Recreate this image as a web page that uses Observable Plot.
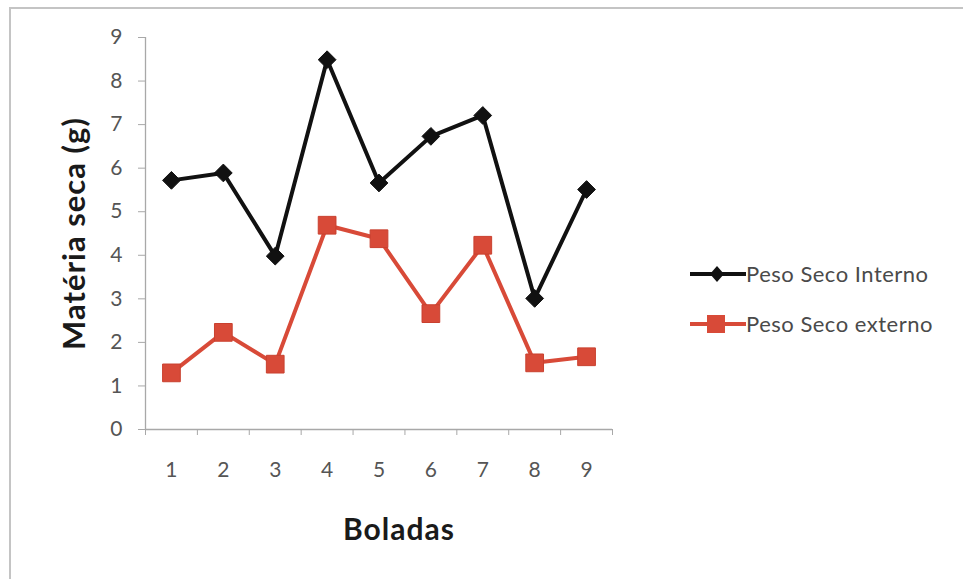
<!DOCTYPE html>
<html>
<head>
<meta charset="utf-8">
<script src="https://cdn.jsdelivr.net/npm/d3@7"></script>
<script src="https://cdn.jsdelivr.net/npm/@observablehq/plot@0.6"></script>
<style>
  body { margin: 0; background: #fff; }
  #wrap { position: relative; width: 963px; height: 579px; overflow: hidden; font-family: Lato, "Open Sans", sans-serif; }
  #border { position: absolute; left: 9px; top: 7px; width: 1000px; height: 1000px; border-top: 2px solid #c4c4c4; border-left: 2px solid #c4c4c4; }
  #chart { position: absolute; left: 0; top: 0; }
  .leg { position: absolute; left: 688px; display: flex; align-items: center; font-size: 22px; letter-spacing: 0.5px; color: #4a4a4a; }
  .leg svg { display: block; }
</style>
</head>
<body>
<div id="wrap">
  <div id="border"></div>
  <div id="chart"></div>
  <div id="legend"></div>
</div>
<script>
const categories = [1, 2, 3, 4, 5, 6, 7, 8, 9];
const interno = [5.72, 5.89, 3.98, 8.49, 5.66, 6.73, 7.21, 3.01, 5.51];
const externo = [1.30, 2.23, 1.50, 4.69, 4.38, 2.66, 4.23, 1.53, 1.67];
const yTicks = [0, 1, 2, 3, 4, 5, 6, 7, 8, 9];
const seriesNames = ["Peso Seco Interno", "Peso Seco externo"];
const yLabel = "Matéria seca (g)";
const xLabel = "Boladas";

const colors = {interno: "#111111", externo: "#d84a38"};
const dataI = categories.map((c, i) => ({x: c, y: interno[i]}));
const dataE = categories.map((c, i) => ({x: c, y: externo[i]}));
const bounds = categories.map(c => c - 0.5).concat([categories[categories.length - 1] + 0.5]);

const chart = Plot.plot({
  width: 963,
  height: 579,
  marginLeft: 145,
  marginRight: 351,
  marginTop: 37,
  marginBottom: 150,
  style: {fontFamily: "Lato, 'Open Sans', sans-serif", fontSize: "21px", background: "transparent", overflow: "visible"},
  x: {domain: [bounds[0], bounds[bounds.length - 1]]},
  y: {domain: [0, 9]},
  marks: [
    Plot.ruleY([0], {stroke: "#a8a8a8", strokeWidth: 1.3}),
    Plot.ruleX([bounds[0]], {stroke: "#a8a8a8", strokeWidth: 1.3}),
    Plot.axisY({ticks: yTicks, tickSize: 7, tickPadding: 16, stroke: "#a8a8a8", fill: "#555", fontSize: 21, label: null}),
    Plot.axisX({ticks: bounds, tickSize: 6, tickFormat: () => "", stroke: "#a8a8a8", label: null}),
    Plot.axisX({ticks: categories, tickSize: 0, tickPadding: 33, fill: "#555", fontSize: 21, label: null}),
    Plot.line(dataE, {x: "x", y: "y", stroke: colors.externo, strokeWidth: 4}),
    Plot.dot(dataE, {x: "x", y: "y", symbol: "square", r: 10, fill: colors.externo, stroke: "#c9402f", strokeWidth: 1}),
    Plot.line(dataI, {x: "x", y: "y", stroke: colors.interno, strokeWidth: 4}),
    Plot.dot(dataI, {x: "x", y: "y", symbol: "diamond2", r: 8, fill: colors.interno, stroke: colors.interno, strokeWidth: 1}),
    Plot.text([yLabel], {frameAnchor: "left", textAnchor: "middle", lineAnchor: "middle", rotate: -90, dx: -70, fontSize: 31, fontWeight: "bold", fill: "#1a1a1a"}),
    Plot.text([xLabel], {frameAnchor: "bottom", textAnchor: "middle", lineAnchor: "middle", dy: 101, dx: 20, fontSize: 30, fontWeight: "bold", fill: "#1a1a1a"})
  ]
});
document.getElementById("chart").appendChild(chart);
chart.querySelectorAll("text").forEach(t => {
  if (t.textContent === xLabel || t.textContent === yLabel) t.setAttribute("letter-spacing", "1");
});
chart.querySelectorAll('g[aria-label$="tick label"]').forEach(g => {
  g.setAttribute("font-size", "21");
  g.style.fontSize = "21px";
});

// legend
const legend = document.getElementById("legend");
const legItems = [
  {name: seriesNames[0], color: colors.interno, shape: "diamond", top: 260},
  {name: seriesNames[1], color: colors.externo, shape: "square", top: 310}
];
legItems.forEach(it => {
  const div = document.createElement("div");
  div.className = "leg";
  div.style.top = it.top + "px";
  const marker = it.shape === "diamond"
    ? `<path d="M29,4 L36,12 L29,20 L22,12 Z" fill="${it.color}"/>`
    : `<rect x="19" y="3" width="18" height="18" fill="${it.color}"/>`;
  div.innerHTML = `<svg width="58" height="24"><line x1="2" x2="58" y1="12" y2="12" stroke="${it.color}" stroke-width="4"/>${marker}</svg><span>${it.name}</span>`;
  legend.appendChild(div);
});
</script>
</body>
</html>
